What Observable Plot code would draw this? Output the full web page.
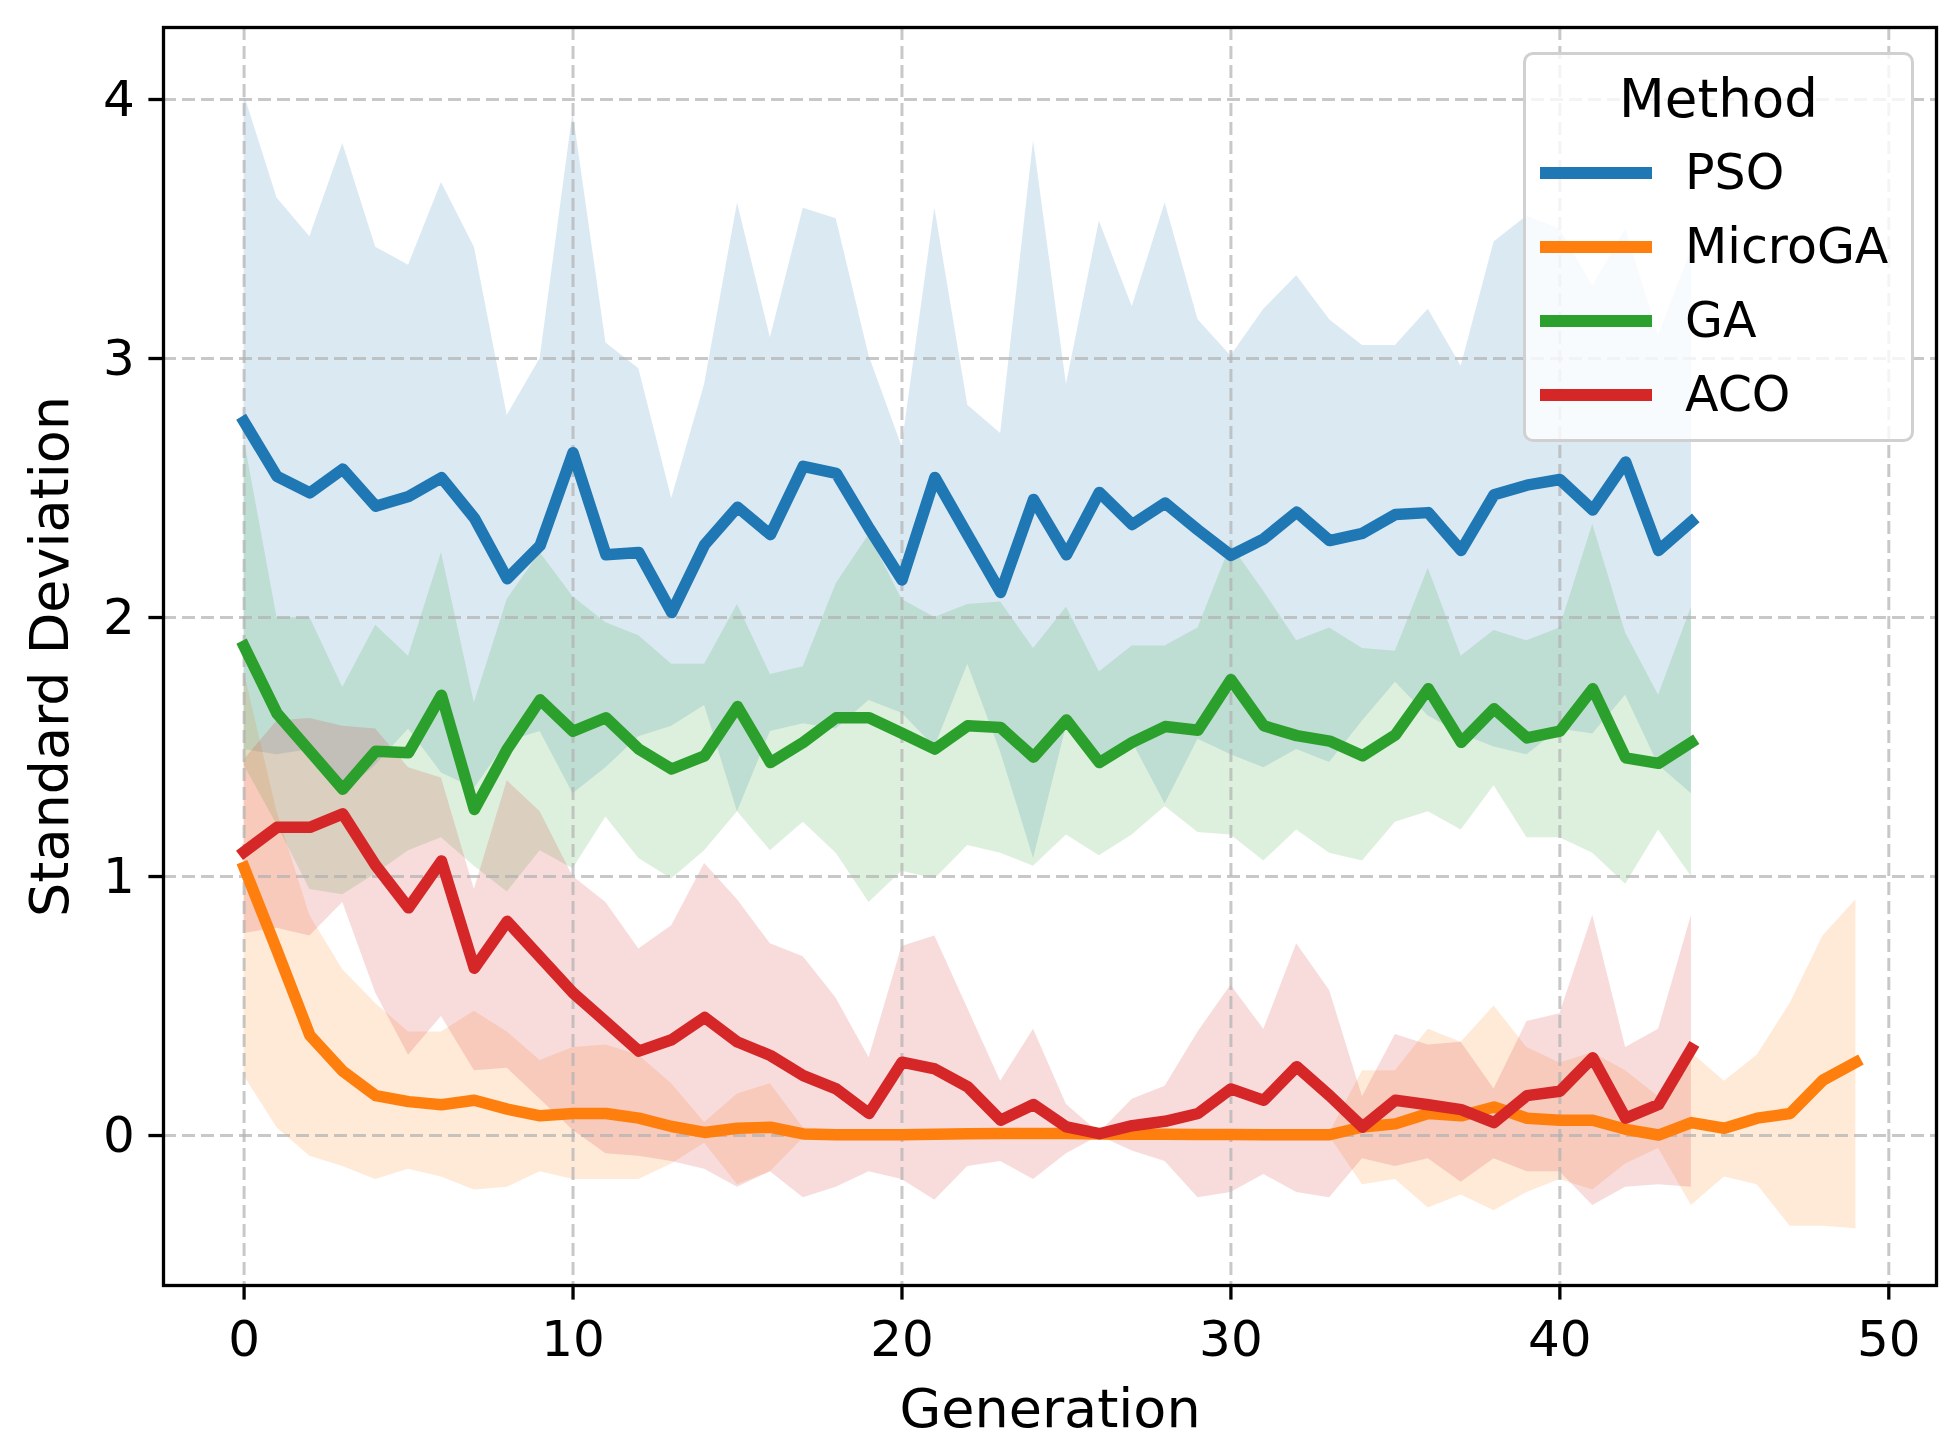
<!DOCTYPE html>
<html>
<head>
<meta charset="utf-8">
<script src="https://cdn.jsdelivr.net/npm/d3@7"></script>
<script src="https://cdn.jsdelivr.net/npm/@observablehq/plot@0.6"></script>
<style>
  html, body { margin: 0; padding: 0; background: #ffffff; }
  #fig { position: relative; width: 1957px; height: 1451px; font-family: "DejaVu Sans", sans-serif; }
  #legend { position: absolute; left: 1523px; top: 52px; width: 385px; height: 384px;
            border: 3px solid #d0d0d0; border-radius: 10px; background: rgba(255,255,255,0.8);
            box-sizing: content-box; }
  #legend .title { position: absolute; left: 0; width: 100%; top: 14px; text-align: center; font-size: 53px; line-height: 60px; color: #000; }
  #legend .item { position: absolute; left: 0; height: 60px; width: 100%; }
  #legend .swatch { position: absolute; left: 14px; top: 24px; width: 112px; height: 11.5px; }
  #legend .lab { position: absolute; left: 159px; top: 0; font-size: 49px; line-height: 60px; color: #000; }
</style>
</head>
<body>
<div id="fig"></div>
<script>
// ---------- data ----------
const methods = ["PSO", "MicroGA", "GA", "ACO"];
const methodColors = ["#1f77b4", "#ff7f0e", "#2ca02c", "#d62728"];
const generation = [0,1,2,3,4,5,6,7,8,9,10,11,12,13,14,15,16,17,18,19,20,21,22,23,24,25,26,27,28,29,30,31,32,33,34,35,36,37,38,39,40,41,42,43,44,45,46,47,48,49];
const xTicks = [0, 10, 20, 30, 40, 50];
const yTicks = [0, 1, 2, 3, 4];

const psoMean = [2.756,2.545,2.481,2.573,2.430,2.467,2.540,2.384,2.150,2.278,2.636,2.242,2.251,2.019,2.281,2.426,2.320,2.584,2.557,2.345,2.145,2.541,2.318,2.097,2.456,2.242,2.483,2.359,2.442,2.338,2.240,2.304,2.407,2.297,2.325,2.398,2.405,2.259,2.474,2.511,2.533,2.415,2.600,2.259,2.370];
const psoUpper = [4.02,3.62,3.47,3.83,3.43,3.36,3.68,3.43,2.78,3.00,3.95,3.06,2.96,2.46,2.90,3.60,3.08,3.58,3.54,3.01,2.66,3.58,2.82,2.71,3.84,2.90,3.53,3.20,3.60,3.15,3.01,3.19,3.32,3.15,3.05,3.05,3.19,2.97,3.45,3.55,3.50,3.28,3.50,3.09,3.42];
const psoLower = [1.49,1.47,1.49,1.32,1.43,1.57,1.40,1.34,1.52,1.56,1.32,1.42,1.54,1.58,1.66,1.25,1.56,1.59,1.57,1.68,1.63,1.50,1.82,1.48,1.07,1.58,1.44,1.52,1.28,1.53,1.47,1.42,1.49,1.44,1.60,1.75,1.62,1.55,1.50,1.47,1.57,1.55,1.70,1.43,1.32];

const microMean = [1.035,0.715,0.387,0.249,0.154,0.131,0.119,0.136,0.102,0.076,0.085,0.085,0.067,0.035,0.012,0.028,0.032,0.006,0.003,0.003,0.003,0.005,0.007,0.008,0.008,0.008,0.006,0.005,0.005,0.004,0.004,0.003,0.003,0.003,0.033,0.045,0.085,0.076,0.110,0.067,0.059,0.059,0.024,0.002,0.050,0.028,0.067,0.085,0.214,0.283];
const microUpper = [1.79,1.25,0.85,0.64,0.51,0.40,0.40,0.48,0.40,0.29,0.34,0.35,0.31,0.20,0.05,0.16,0.20,0.03,0.02,0.015,0.015,0.015,0.02,0.02,0.02,0.02,0.015,0.015,0.015,0.012,0.012,0.01,0.01,0.01,0.25,0.25,0.41,0.36,0.50,0.34,0.28,0.32,0.25,0.15,0.32,0.21,0.31,0.51,0.77,0.91];
const microLower = [0.23,0.03,-0.08,-0.12,-0.17,-0.13,-0.16,-0.21,-0.20,-0.14,-0.17,-0.17,-0.17,-0.11,-0.03,-0.19,-0.14,-0.01,-0.01,-0.008,-0.008,-0.005,-0.005,-0.004,-0.004,-0.004,-0.003,-0.004,-0.004,-0.004,-0.004,-0.004,-0.004,-0.004,-0.19,-0.17,-0.28,-0.23,-0.29,-0.22,-0.17,-0.21,-0.11,-0.05,-0.27,-0.16,-0.19,-0.35,-0.35,-0.36];

const gaMean = [1.889,1.630,1.484,1.337,1.484,1.478,1.700,1.259,1.492,1.682,1.561,1.613,1.492,1.415,1.466,1.656,1.440,1.518,1.613,1.613,1.553,1.492,1.582,1.575,1.461,1.604,1.440,1.518,1.579,1.565,1.760,1.582,1.544,1.523,1.466,1.547,1.725,1.518,1.648,1.535,1.561,1.725,1.458,1.437,1.518];
const gaUpper = [2.69,2.00,2.00,1.73,1.97,1.85,2.25,1.67,2.07,2.25,2.08,1.98,1.93,1.82,1.82,2.05,1.78,1.81,2.13,2.32,2.07,2.00,2.05,2.06,1.88,2.04,1.79,1.89,1.89,1.96,2.28,2.10,1.91,1.96,1.88,1.87,2.19,1.85,1.95,1.91,1.96,2.36,1.94,1.70,2.04];
const gaLower = [1.43,1.20,0.95,0.93,1.01,1.10,1.15,1.04,0.94,1.10,1.03,1.23,1.07,0.99,1.10,1.25,1.10,1.21,1.09,0.90,1.02,0.99,1.12,1.09,1.04,1.16,1.08,1.16,1.27,1.17,1.16,1.06,1.18,1.09,1.06,1.21,1.25,1.18,1.35,1.15,1.15,1.09,0.97,1.18,1.00];

const acoMean = [1.095,1.19,1.19,1.242,1.043,0.879,1.06,0.646,0.827,0.689,0.551,0.439,0.326,0.370,0.456,0.361,0.309,0.231,0.180,0.085,0.283,0.257,0.188,0.059,0.120,0.033,0.007,0.038,0.055,0.085,0.180,0.136,0.266,0.154,0.033,0.136,0.119,0.100,0.050,0.154,0.171,0.300,0.067,0.120,0.335];
const acoUpper = [1.45,1.60,1.61,1.58,1.57,1.42,1.38,0.95,1.37,1.25,1.00,0.90,0.72,0.81,1.05,0.91,0.74,0.69,0.53,0.30,0.73,0.77,0.49,0.21,0.41,0.12,0.01,0.14,0.19,0.40,0.58,0.41,0.74,0.56,0.15,0.39,0.35,0.36,0.18,0.44,0.47,0.85,0.34,0.41,0.85];
const acoLower = [0.78,0.80,0.77,0.90,0.55,0.31,0.46,0.25,0.26,0.14,0.02,-0.07,-0.08,-0.10,-0.13,-0.20,-0.14,-0.24,-0.20,-0.14,-0.17,-0.25,-0.12,-0.10,-0.17,-0.07,-0.002,-0.06,-0.10,-0.24,-0.22,-0.15,-0.22,-0.24,-0.09,-0.12,-0.09,-0.18,-0.09,-0.14,-0.14,-0.27,-0.20,-0.19,-0.20];

// ---------- table ----------
const seriesList = [
  {method: "PSO", mean: psoMean, lo: psoLower, hi: psoUpper},
  {method: "MicroGA", mean: microMean, lo: microLower, hi: microUpper},
  {method: "GA", mean: gaMean, lo: gaLower, hi: gaUpper},
  {method: "ACO", mean: acoMean, lo: acoLower, hi: acoUpper}
];
const rows = seriesList.flatMap(s => s.mean.map((m, i) => ({
  method: s.method, g: generation[i], m, lo: s.lo[i], hi: s.hi[i]
})));

const W = 1957, H = 1451;
const chart = Plot.plot({
  width: W,
  height: H,
  marginLeft: 163,
  marginRight: 21,
  marginTop: 27,
  marginBottom: 166,
  style: {fontFamily: "DejaVu Sans, sans-serif", background: "white", color: "black"},
  x: {domain: [-2.45, 51.45], label: null},
  y: {domain: [-0.579, 4.278], label: null},
  color: {domain: methods, range: methodColors},
  marks: [
    Plot.areaY(rows, {x: "g", y1: "lo", y2: "hi", z: "method", fill: "method", fillOpacity: 0.16, curve: "linear"}),
    Plot.gridX(xTicks, {stroke: "#b0b0b0", strokeOpacity: 0.7, strokeWidth: 3, strokeDasharray: "13,6"}),
    Plot.gridY(yTicks, {stroke: "#b0b0b0", strokeOpacity: 0.7, strokeWidth: 3, strokeDasharray: "13,6"}),
    Plot.line(rows, {x: "g", y: "m", z: "method", stroke: "method", strokeWidth: 11.5,
                     strokeLinejoin: "round", strokeLinecap: "square"}),
    Plot.frame({stroke: "black", strokeWidth: 3.3}),
    Plot.axisX(xTicks, {tickSize: 14.6, strokeWidth: 3.3, tickPadding: 20, fontSize: 50, label: null, tickFormat: "d"}),
    Plot.axisY(yTicks, {tickSize: 14.6, strokeWidth: 3.3, tickPadding: 14, fontSize: 50, label: null, tickFormat: "d"}),
    Plot.text(["Generation"], {frameAnchor: "bottom", dy: 141, fontSize: 54, text: d => d, fill: "black"}),
    Plot.text(["Standard Deviation"], {frameAnchor: "left", dx: -113, rotate: -90, textAnchor: "middle", lineAnchor: "middle", fontSize: 54, text: d => d, fill: "black"})
  ]
});

const fig = document.getElementById("fig");
fig.appendChild(chart);

// ---------- legend ----------
const legend = document.createElement("div");
legend.id = "legend";
const title = document.createElement("div");
title.className = "title";
title.textContent = "Method";
legend.appendChild(title);
const itemTops = [88, 162, 236, 310];
methods.forEach((name, i) => {
  const item = document.createElement("div");
  item.className = "item";
  item.style.top = itemTops[i] + "px";
  const sw = document.createElement("div");
  sw.className = "swatch";
  sw.style.background = methodColors[i];
  const lab = document.createElement("div");
  lab.className = "lab";
  lab.textContent = name;
  item.appendChild(sw);
  item.appendChild(lab);
  legend.appendChild(item);
});
fig.appendChild(legend);
</script>
</body>
</html>
